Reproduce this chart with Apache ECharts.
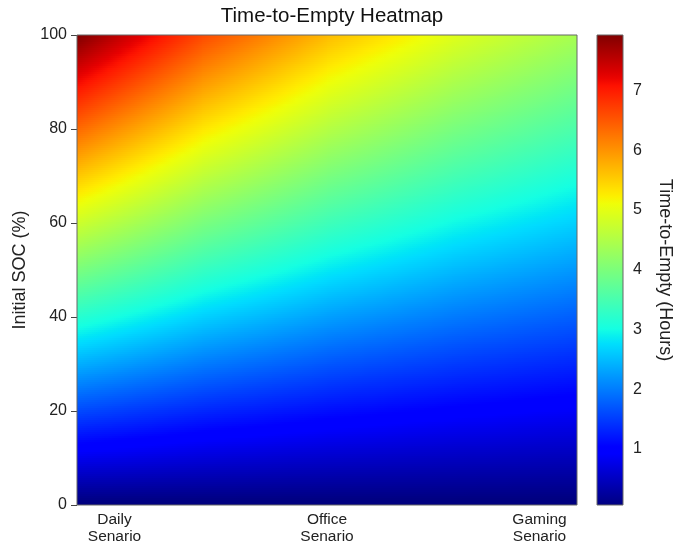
<!DOCTYPE html>
<html>
<head>
<meta charset="utf-8">
<script src="https://cdn.jsdelivr.net/npm/echarts@6/dist/echarts.min.js"></script>
<style>
html,body{margin:0;padding:0;background:#fff;}
#chart{width:673px;height:547px;}
</style>
</head>
<body>
<div id="chart"></div>
<script>
// ---- data ----
const titleText = 'Time-to-Empty Heatmap';
const categories = ['Daily\nSenario', 'Office\nSenario', 'Gaming\nSenario'];
const categoryLabelPos = [0.15, 1, 1.85];          // where the scenario labels sit on the scenario axis
const scenarioPos = [0, 0.5, 1, 1.5, 2];           // sampled columns across the scenario axis
const socLevels = [0, 20, 40, 60, 80, 100];        // Initial SOC (%)
// Time-to-empty (hours) at each SOC level, per sampled column
const hoursDaily        = [0, 1.59, 3.17, 4.76, 6.34, 7.93];
const hoursDailyOffice  = [0, 1.32, 2.64, 3.97, 5.29, 6.61];
const hoursOffice       = [0, 1.13, 2.26, 3.40, 4.53, 5.66];
const hoursOfficeGaming = [0, 0.99, 1.98, 2.97, 3.96, 4.95];
const hoursGaming       = [0, 0.88, 1.76, 2.64, 3.52, 4.40];
const socTicks = [0, 20, 40, 60, 80, 100];
const cbMin = 0.06, cbMax = 7.93;
const cbTicks = [1, 2, 3, 4, 5, 6, 7];

const columns = [hoursDaily, hoursDailyOffice, hoursOffice, hoursOfficeGaming, hoursGaming];

// ---- jet colormap ----
const jetR = [[0,0],[0.35,0],[0.66,1],[0.89,1],[1,0.5]];
const jetG = [[0,0],[0.125,0],[0.375,1],[0.64,1],[0.91,0],[1,0]];
const jetB = [[0,0.5],[0.11,1],[0.34,1],[0.65,0],[1,0]];
function seg(tab, f){
  for (let k = 1; k < tab.length; k++) {
    if (f <= tab[k][0]) {
      const a = tab[k-1], b = tab[k];
      return a[1] + (b[1]-a[1]) * (f - a[0]) / (b[0] - a[0]);
    }
  }
  return tab[tab.length-1][1];
}
function jet(f){
  f = Math.max(0, Math.min(1, f));
  return 'rgb(' + Math.round(255*seg(jetR,f)) + ',' + Math.round(255*seg(jetG,f)) + ',' + Math.round(255*seg(jetB,f)) + ')';
}
function colorFor(v){ return jet((v - cbMin) / (cbMax - cbMin)); }

// cells between sampled columns / SOC levels
const cells = [];
for (let i = 0; i < scenarioPos.length - 1; i++)
  for (let j = 0; j < socLevels.length - 1; j++) cells.push([i, j]);

function renderCell(params, api){
  const i = api.value(0), j = api.value(1);
  const p00 = api.coord([scenarioPos[i], socLevels[j]]);
  const p11 = api.coord([scenarioPos[i+1], socLevels[j+1]]);
  const left = p00[0], right = p11[0], bottom = p00[1], top = p11[1];
  const N = Math.max(1, Math.ceil((bottom - top) / 2));
  const cL = columns[i], cR = columns[i+1];
  const children = [];
  for (let k = 0; k < N; k++) {
    const tm = (k + 0.5) / N;
    const vL = cL[j] + (cL[j+1] - cL[j]) * tm;
    const vR = cR[j] + (cR[j+1] - cR[j]) * tm;
    const yTop = bottom - (bottom - top) * (k + 1) / N;
    const yBot = bottom - (bottom - top) * k / N;
    const stops = [];
    const M = 12;
    for (let m = 0; m <= M; m++) stops.push({offset: m / M, color: colorFor(vL + (vR - vL) * m / M)});
    children.push({
      type: 'rect',
      shape: {x: left, y: yTop, width: right - left + 1, height: yBot - yTop + 1},
      style: {fill: new echarts.graphic.LinearGradient(0, 0, 1, 0, stops)}
    });
  }
  return {type: 'group', children: children};
}

function renderFrame(params, api){
  const p0 = api.coord([scenarioPos[0], socTicks[0]]);
  const p1 = api.coord([scenarioPos[scenarioPos.length-1], socTicks[socTicks.length-1]]);
  return {type: 'rect', shape: {x: p0[0], y: p1[1], width: p1[0]-p0[0], height: p0[1]-p1[1]},
          style: {fill: null, stroke: '#666', lineWidth: 1}};
}

function renderColorbar(params, api){
  const p0 = api.coord([0, cbMin]);
  const p1 = api.coord([1, cbMax]);
  const stops = [];
  const M = 64;
  for (let m = 0; m <= M; m++) stops.push({offset: m / M, color: jet(m / M)});
  return {type: 'rect', shape: {x: p0[0], y: p1[1], width: p1[0]-p0[0], height: p0[1]-p1[1]},
          style: {fill: new echarts.graphic.LinearGradient(0, 1, 0, 0, stops), stroke: '#666', lineWidth: 1}};
}

const FONT = '"Liberation Sans", Arial, sans-serif';
const chart = echarts.init(document.getElementById('chart'), null, {renderer: 'canvas'});
chart.setOption({
  animation: false,
  backgroundColor: '#fff',
  title: {
    text: titleText, left: 327, textAlign: 'center', top: 1,
    textStyle: {fontFamily: FONT, fontSize: 20.5, fontWeight: 'normal', color: '#111'}
  },
  grid: [
    {left: 77, right: 96, top: 35, bottom: 42, containLabel: false, outerBoundsMode: 'none'},
    {left: 597, right: 50, top: 35, bottom: 42, containLabel: false, outerBoundsMode: 'none'}
  ],
  xAxis: [
    {
      type: 'value', gridIndex: 0, min: 0, max: 2,
      axisLine: {show: false}, axisTick: {show: false}, splitLine: {show: false},
      axisLabel: {
        customValues: categoryLabelPos,
        formatter: function(v){ const k = categoryLabelPos.indexOf(v); return k >= 0 ? categories[k] : ''; },
        fontFamily: FONT, fontSize: 15.5, lineHeight: 17, color: '#222', margin: 6
      }
    },
    {
      type: 'value', gridIndex: 1, min: 0, max: 1, show: false
    }
  ],
  yAxis: [
    {
      type: 'value', gridIndex: 0, min: 0, max: 100, interval: 20,
      name: 'Initial SOC (%)', nameLocation: 'middle', nameGap: 35,
      nameTextStyle: {fontFamily: FONT, fontSize: 18, color: '#222'},
      axisLine: {show: false},
      axisTick: {show: true, length: 6, lineStyle: {color: '#444'}},
      splitLine: {show: false},
      axisLabel: {fontFamily: FONT, fontSize: 16, color: '#222', margin: 10}
    },
    {
      type: 'value', gridIndex: 1, min: cbMin, max: cbMax, position: 'right',
      name: 'Time-to-Empty (Hours)', nameLocation: 'middle', nameGap: 33, nameRotate: -90,
      nameTextStyle: {fontFamily: FONT, fontSize: 18, color: '#222'},
      axisLine: {show: false},
      axisTick: {show: true, length: 5, customValues: cbTicks, lineStyle: {color: '#444'}},
      splitLine: {show: false},
      axisLabel: {customValues: cbTicks, fontFamily: FONT, fontSize: 16, color: '#222', margin: 10}
    }
  ],
  series: [
    {
      type: 'custom', xAxisIndex: 0, yAxisIndex: 0, renderItem: renderCell,
      data: cells, clip: true, silent: true, z: 2
    },
    {
      type: 'custom', xAxisIndex: 0, yAxisIndex: 0, renderItem: renderFrame,
      data: [[0]], silent: true, z: 5
    },
    {
      type: 'custom', xAxisIndex: 1, yAxisIndex: 1, renderItem: renderColorbar,
      data: [[0]], silent: true, z: 2
    }
  ]
});
</script>
</body>
</html>
